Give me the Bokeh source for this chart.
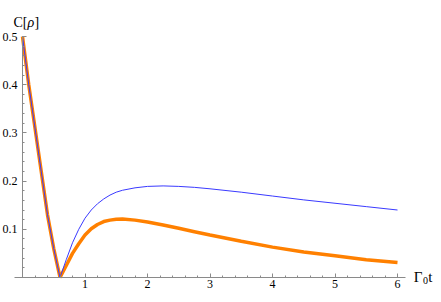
from bokeh.plotting import figure
from bokeh.models import Range1d, FixedTicker, Label
from bokeh.embed import file_html
from bokeh.resources import INLINE

# time axis (Gamma_0 t) sample points
t_vals = [0.0, 0.1, 0.2, 0.3, 0.4, 0.5, 0.6, 0.7, 0.8, 0.9, 1.0, 1.1, 1.2, 1.3,
          1.4, 1.5, 1.6, 1.8, 2.0, 2.25, 2.5, 2.75, 3.0, 3.5, 4.0, 4.5, 5.0,
          5.5, 6.0]

# concurrence C[rho], thin blue series
c_blue = [0.500, 0.400, 0.310, 0.220, 0.130, 0.060, 0.000, 0.037, 0.072, 0.100,
          0.123, 0.140, 0.153, 0.163, 0.171, 0.177, 0.181, 0.186, 0.189, 0.190,
          0.189, 0.187, 0.184, 0.177, 0.169, 0.161, 0.154, 0.147, 0.140]

# concurrence C[rho], thick orange series
c_orange = [0.500, 0.400, 0.310, 0.220, 0.130, 0.060, 0.000, 0.025, 0.050, 0.070,
            0.088, 0.101, 0.110, 0.116, 0.119, 0.121, 0.1215, 0.119, 0.115, 0.109,
            0.102, 0.095, 0.088, 0.075, 0.063, 0.053, 0.045, 0.037, 0.031]

x_ticks = [1, 2, 3, 4, 5, 6]
x_minor = [round(0.2 * i, 2) for i in range(1, 31)]
y_ticks = [0.1, 0.2, 0.3, 0.4, 0.5]
y_minor = [round(0.02 * i, 2) for i in range(1, 26)]

FONT = "Liberation Serif"

p = figure(width=433, height=294, output_backend="svg", toolbar_location=None,
           x_range=Range1d(-0.352, 6.576), y_range=Range1d(-0.0353, 0.5747),
           min_border_left=0, min_border_right=0, min_border_top=0,
           min_border_bottom=0)
p.grid.visible = False
p.outline_line_color = None
p.background_fill_color = "white"
p.border_fill_color = "white"

p.line(t_vals, c_orange, line_color="#ff8000", line_width=3.5)
p.line(t_vals, c_blue, line_color="#3a3aff", line_width=1)

for ax in (p.xaxis[0], p.yaxis[0]):
    ax.axis_line_color = "#8a8a8a"
    ax.major_tick_line_color = "#8a8a8a"
    ax.minor_tick_line_color = "#8a8a8a"
    ax.major_tick_in = 4
    ax.major_tick_out = 0
    ax.minor_tick_in = 2
    ax.minor_tick_out = 0
    ax.major_label_text_font = FONT
    ax.major_label_text_font_size = "12px"
    ax.major_label_text_color = "black"

p.xaxis.ticker = FixedTicker(ticks=x_ticks, minor_ticks=x_minor)
p.yaxis.ticker = FixedTicker(ticks=y_ticks, minor_ticks=y_minor)
p.xaxis.major_label_standoff = 3
p.yaxis.major_label_standoff = 5
p.xaxis.fixed_location = 0
p.yaxis.fixed_location = 0
p.xaxis.bounds = (-0.13, 6.13)
p.yaxis.bounds = (0, 0.5)

# axis labels
lab_kw = dict(text_font=FONT, text_color="black")
p.add_layout(Label(x=0, y=0.5, x_offset=-9, y_offset=14, text="C[",
                   text_font_size="14px", text_baseline="alphabetic", **lab_kw))
p.add_layout(Label(x=0, y=0.5, x_offset=5, y_offset=14, text="ρ",
                   text_font_size="14px", text_font_style="italic",
                   text_baseline="alphabetic", **lab_kw))
p.add_layout(Label(x=0, y=0.5, x_offset=12, y_offset=14, text="]",
                   text_font_size="14px", text_baseline="alphabetic", **lab_kw))

p.add_layout(Label(x=6.13, y=0, x_offset=8, y_offset=0, text="Γ",
                   text_font_size="15px", text_baseline="middle", **lab_kw))
p.add_layout(Label(x=6.13, y=0, x_offset=17.3, y_offset=-3, text="0",
                   text_font_size="10px", text_baseline="middle", **lab_kw))
p.add_layout(Label(x=6.13, y=0, x_offset=22.6, y_offset=0, text="t",
                   text_font_size="15px", text_baseline="middle", **lab_kw))

open("out.html", "w").write(file_html(p, INLINE))
